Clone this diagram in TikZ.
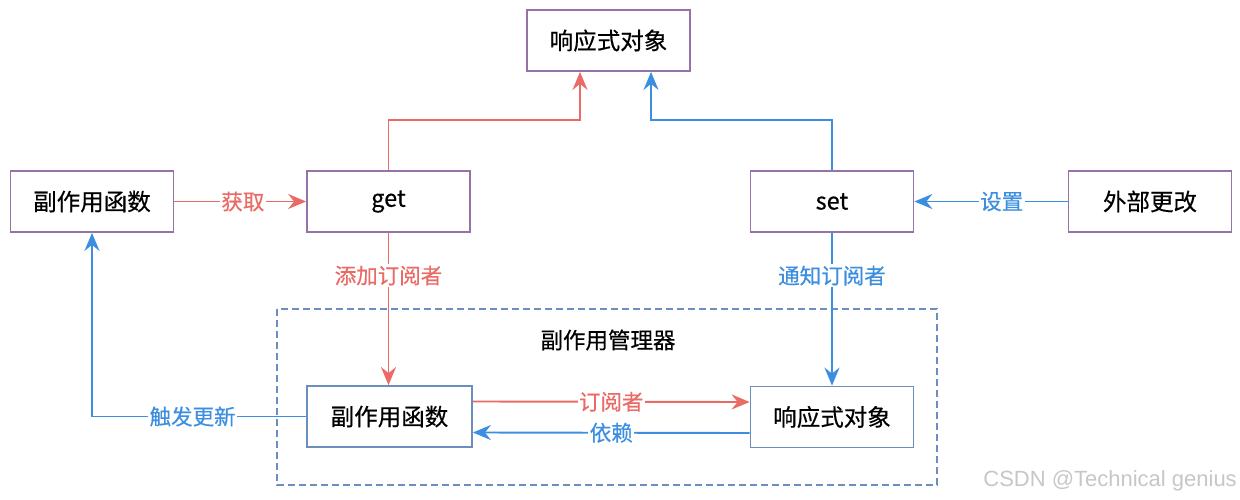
\documentclass[tikz,border=0pt]{standalone}
\usepackage{fontspec}
\setmainfont{Noto Sans CJK SC}[FakeBold=0.4]
\newfontfamily\wmfont{Liberation Sans}
\usetikzlibrary{arrows.meta,calc}
\definecolor{cred}{HTML}{EA6B66}
\definecolor{cblue}{HTML}{3C8FE0}
\definecolor{cpurple}{HTML}{9673A6}
\definecolor{cgray}{HTML}{6C8EBF}
\begin{document}
\begin{tikzpicture}[x=1pt,y=-1pt,
  box/.style={draw=cpurple,line width=1.8pt,minimum width=163pt,minimum height=61pt,inner sep=0pt,font=\fontsize{23.5}{26}\selectfont},
  bbox/.style={box,draw=cgray},
  redline/.style={draw=cred,line width=1.9pt,-{Stealth[length=18pt,width=15pt,inset=6pt]}},
  blueline/.style={draw=cblue,line width=1.9pt,-{Stealth[length=18pt,width=15pt,inset=6pt]}},
  lbl/.style={fill=white,inner sep=1.5pt,font=\fontsize{21.5}{24}\selectfont},
  rlbl/.style={lbl,text=cred},
  blbl/.style={lbl,text=cblue}]
\useasboundingbox (0,0) rectangle (1240,500);
\fill[white] (0,0) rectangle (1240,500);
% manager frame
\draw[draw=cgray,line width=1.6pt,dash pattern=on 7pt off 4pt] (277,309) rectangle (937,485);
\node[font=\fontsize{22.5}{25}\selectfont] (mgr) at (608,340) {副作用管理器};
% nodes
\node[box] (top) at (608.5,40.5) {响应式对象};
\node[box] (lf) at (92,201.5) {副作用函数};
\node[box] (get) at (388.5,201.5) {get};
\node[box] (set) at (832,201.5) {set};
\node[box] (ext) at (1150,201.5) {外部更改};
\node[bbox,minimum width=165pt] (bf) at (389.5,416.5) {副作用函数};
\node[bbox] (br) at (832,417) {响应式对象};
% connectors
\draw[redline] (get.north) -- ++(0,-50) -| ([xshift=-28.5pt]top.south);
\draw[blueline] (set.north) -- ++(0,-50) -| ([xshift=42.5pt]top.south);
\draw[redline] (lf.east) -- node[rlbl,pos=0.52] {获取} (get.west);
\draw[blueline] (ext.west) -- node[blbl,pos=0.43] {设置} (set.east);
\draw[redline] (get.south) -- node[rlbl,pos=0.28] {添加订阅者} (bf.north -| get.south);
\draw[blueline] (set.south) -- node[blbl,pos=0.28] {通知订阅者} (br.north);
\draw[redline] ($(bf.east)+(0,-15)$) -- node[rlbl] {订阅者} ($(br.west)+(0,-15)$);
\draw[blueline] ($(br.west)+(0,16)$) -- node[blbl] {依赖} ($(bf.east)+(0,16)$);
\draw[blueline] (bf.west) -| node[blbl,pos=0.265] {触发更新} (lf.south);
% watermark
\node[text=black!22,font=\wmfont\fontsize{22}{25}\selectfont,anchor=east,inner sep=0pt] (wm) at (1237,481) {CSDN @Technical genius};
\end{tikzpicture}
\end{document}
